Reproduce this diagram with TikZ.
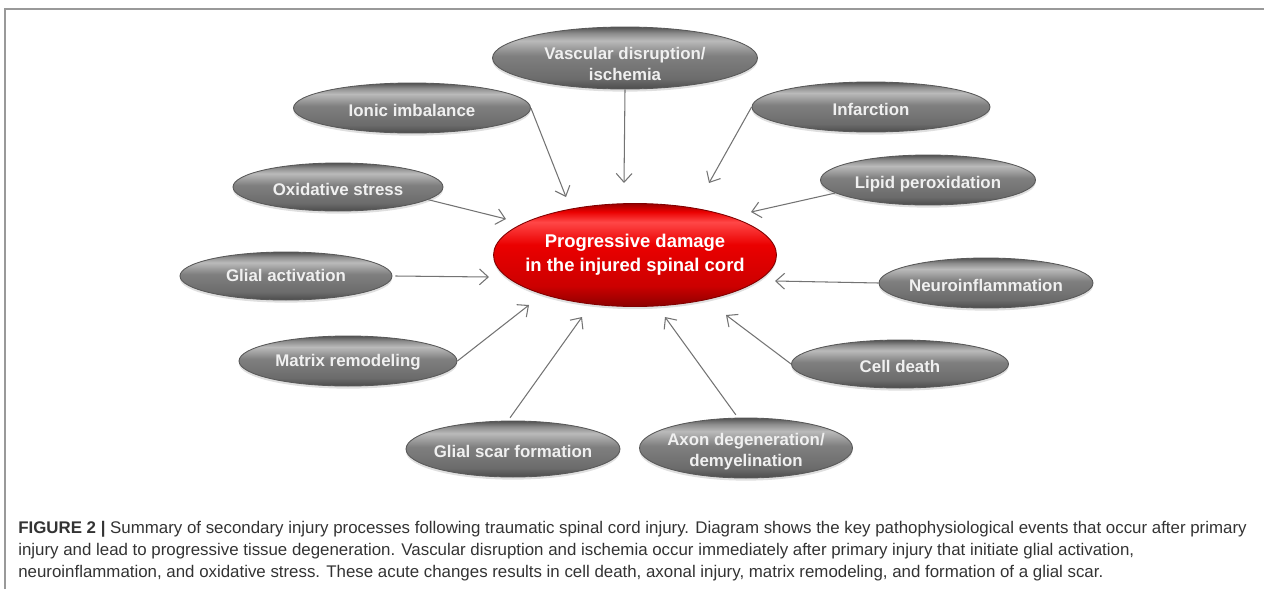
\documentclass[tikz,border=0pt]{standalone}
\usepackage{fontspec}
\setmainfont{Liberation Sans}
\usetikzlibrary{shapes.geometric,arrows.meta,shadows}

\pgfdeclareverticalshading{glossgray}{100bp}{color(0bp)=(black!70); color(25bp)=(black!70); color(33bp)=(black!58); color(52bp)=(black!50); color(64bp)=(black!27); color(70bp)=(black!45); color(75bp)=(black!68); color(100bp)=(black!68)}
\pgfdeclareverticalshading{glossred}{100bp}{color(0bp)=(red!55!black); color(25bp)=(red!55!black); color(35bp)=(red!80!black); color(55bp)=(red!92!black); color(66bp)=(red!72!white); color(71bp)=(red!92!black); color(75bp)=(red!60!black); color(100bp)=(red!60!black)}

% text that does not widen the ellipse, lowered by #1
\newcommand\intext[2][2.2pt]{\raisebox{0pt}[\dimexpr\height+#1\relax][\dimexpr\depth-#1\relax]{\makebox[0pt]{\begin{tabular}{@{}c@{}}#2\end{tabular}}}}

\tikzset{
  cause/.style={ellipse, draw=black!65, line width=0.5pt, shading=glossgray,
    text=white!94!black, font=\fontsize{9.6}{11.8}\selectfont\bfseries,
    inner sep=0pt,
    drop shadow={shadow xshift=0pt, shadow yshift=-1.5pt, opacity=0.25}},
  damage/.style={ellipse, draw=red!50!black, line width=0.5pt, shading=glossred,
    text=white, font=\fontsize{10.5}{13.6}\selectfont\bfseries,
    inner sep=0pt,
    drop shadow={shadow xshift=0pt, shadow yshift=-1.5pt, opacity=0.25}},
  flow/.style={->, draw=black!55, line width=0.6pt},
  capline/.style={anchor=base west, inner sep=0pt, text=black!80,
    font=\fontsize{9.6}{12}\selectfont}
}

\begin{document}
\begin{tikzpicture}[x=0.02cm, y=-0.02cm, >={Straight Barb[length=5pt, width=9pt]}]
\useasboundingbox (0,0) rectangle (1264,589);
\draw[black!40, line width=1.1pt] (5,589) -- (5,9) -- (1264,9);

% centre
\node[damage, minimum width=5.66cm, minimum height=2.06cm] (dmg) at (635,255) {\intext[0pt]{Progressive damage\\in the injured spinal cord}};

% causes
\node[cause, minimum width=5.30cm, minimum height=1.24cm] (vasc) at (625,58) {\intext[4.5pt]{Vascular disruption/\\ischemia}};
\node[cause, minimum width=4.74cm, minimum height=1.00cm] (ionic) at (412,108) {\intext{Ionic imbalance}};
\node[cause, minimum width=4.76cm, minimum height=1.00cm] (infarct) at (871,107) {\intext{Infarction}};
\node[cause, minimum width=4.20cm, minimum height=0.96cm] (oxid) at (338,187) {\intext{Oxidative stress}};
\node[cause, minimum width=4.30cm, minimum height=1.00cm] (lipid) at (928,180) {\intext{Lipid peroxidation}};
\node[cause, minimum width=4.24cm, minimum height=0.96cm] (glial) at (286,276) {\intext[1pt]{Glial activation}};
\node[cause, minimum width=4.28cm, minimum height=1.00cm] (neuro) at (986,283) {\intext{Neuroinflammation}};
\node[cause, minimum width=4.36cm, minimum height=1.00cm] (matrix) at (348,361) {\intext[1pt]{Matrix remodeling}};
\node[cause, minimum width=4.34cm, minimum height=0.96cm] (cell) at (900,364) {\intext{Cell death}};
\node[cause, minimum width=4.28cm, minimum height=1.12cm] (scar) at (513,449) {\intext{Glial scar formation}};
\node[cause, minimum width=4.26cm, minimum height=1.20cm] (axon) at (746,448) {\intext{Axon degeneration/\\demyelination}};

% arrow ends in front of the centre
\coordinate (e-vasc) at (624,183);
\coordinate (e-ionic) at (566,197);
\coordinate (e-infarct) at (709,183);
\coordinate (e-oxid) at (506,219);
\coordinate (e-lipid) at (751,212);
\coordinate (e-glial) at (489,277);
\coordinate (e-neuro) at (775,281);
\coordinate (e-matrix) at (529,305);
\coordinate (e-cell) at (726,315);
\coordinate (e-scar) at (582,317);
\coordinate (e-axon) at (665,317);

\draw[flow] (vasc.south) -- (e-vasc);
\draw[flow] (ionic.east) -- (e-ionic);
\draw[flow] (infarct.west) -- (e-infarct);
\draw[flow] (oxid.-8) -- (e-oxid);
\draw[flow] (lipid.188) -- (e-lipid);
\draw[flow] (glial.east) ++(3,0) -- (e-glial);
\draw[flow] (neuro.west) -- (e-neuro);
\draw[flow] (matrix.east) -- (e-matrix);
\draw[flow] (cell.west) -- (e-cell);
\draw[flow, shorten <=2pt] (scar.100) -- (e-scar);
\draw[flow, shorten <=2pt] (axon.105) -- (e-axon);

% caption
\node[capline] (cap1) at (18,533) {\textbf{FIGURE 2 |} Summary of secondary injury processes following traumatic spinal cord injury. Diagram shows the key pathophysiological events that occur after primary};
\node[capline] (cap2) at (18,555) {injury and lead to progressive tissue degeneration. Vascular disruption and ischemia occur immediately after primary injury that initiate glial activation,};
\node[capline] (cap3) at (18,577) {neuroinflammation, and oxidative stress. These acute changes results in cell death, axonal injury, matrix remodeling, and formation of a glial scar.};
\end{tikzpicture}
\end{document}
